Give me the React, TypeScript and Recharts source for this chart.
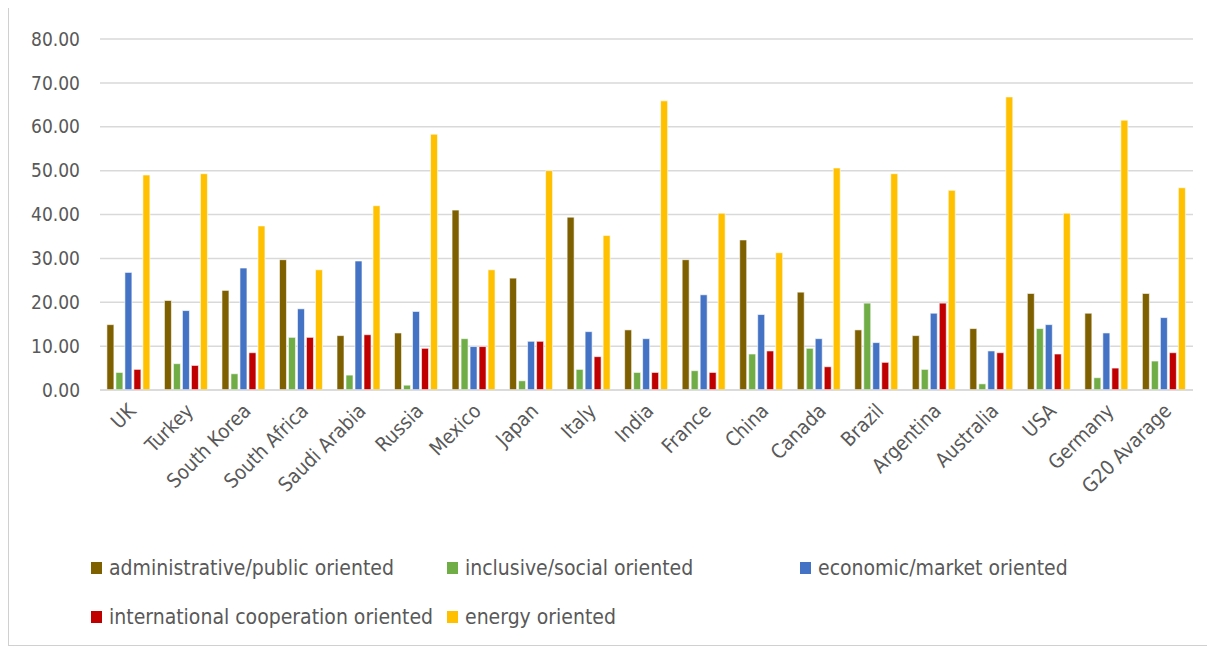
import { BarChart, Bar, XAxis, YAxis, CartesianGrid, Legend } from 'recharts';

const countries = ['UK', 'Turkey', 'South Korea', 'South Africa', 'Saudi Arabia', 'Russia', 'Mexico', 'Japan', 'Italy', 'India', 'France', 'China', 'Canada', 'Brazil', 'Argentina', 'Australia', 'USA', 'Germany', 'G20 Avarage'];
const administrative = [14.9, 20.4, 22.7, 29.7, 12.4, 13.0, 41.0, 25.5, 39.4, 13.7, 29.7, 34.2, 22.3, 13.7, 12.4, 14.0, 22.0, 17.5, 22.0];
const inclusive = [4.0, 6.0, 3.7, 12.0, 3.4, 1.1, 11.7, 2.1, 4.7, 4.0, 4.4, 8.2, 9.5, 19.8, 4.7, 1.4, 14.0, 2.8, 6.6];
const economic = [26.8, 18.1, 27.8, 18.5, 29.4, 17.9, 9.9, 11.1, 13.3, 11.7, 21.7, 17.2, 11.7, 10.8, 17.5, 8.9, 14.9, 13.0, 16.5];
const international = [4.7, 5.6, 8.5, 12.0, 12.6, 9.5, 9.9, 11.1, 7.6, 4.0, 4.0, 8.9, 5.3, 6.3, 19.8, 8.5, 8.2, 5.0, 8.5];
const energy = [49.0, 49.3, 37.4, 27.4, 42.0, 58.3, 27.4, 50.0, 35.2, 65.9, 40.3, 31.3, 50.6, 49.3, 45.5, 66.8, 40.3, 61.5, 46.1];
const yTicks = [0, 10, 20, 30, 40, 50, 60, 70, 80];

const series = [
  { key: 'administrative', name: 'administrative/public oriented', color: '#7F6000' },
  { key: 'inclusive', name: 'inclusive/social oriented', color: '#70AD47' },
  { key: 'economic', name: 'economic/market oriented', color: '#4472C4' },
  { key: 'international', name: 'international cooperation oriented', color: '#C00000' },
  { key: 'energy', name: 'energy oriented', color: '#FFC000' },
];

const data = countries.map((c, i) => ({
  country: c,
  administrative: administrative[i],
  inclusive: inclusive[i],
  economic: economic[i],
  international: international[i],
  energy: energy[i],
}));

const FONT = '"Liberation Sans Narrow", "DejaVu Sans Condensed", "Liberation Sans", sans-serif';
const TEXT = '#595959';

function CountryTick({ x, y, payload }: any) {
  return (
    <g transform={`translate(${x + 4},${y + 10})`}>
      <text textAnchor="end" transform="rotate(-45)" fill={TEXT} fontSize={20} fontFamily={FONT} dy={6}>
        {payload.value}
      </text>
    </g>
  );
}

function LegendBox() {
  const cols = [0, 356, 709];
  return (
    <div style={{ position: 'relative', height: 100, fontFamily: FONT, fontSize: 21, color: TEXT }}>
      {series.map((s, i) => {
        const row = i < 3 ? 0 : 1;
        const col = i < 3 ? i : i - 3;
        return (
          <div
            key={s.key}
            style={{ position: 'absolute', left: 82 + cols[col], top: 11 + row * 49, display: 'flex', alignItems: 'center', whiteSpace: 'nowrap' }}
          >
            <span style={{ width: 11, height: 12, background: s.color, marginRight: 7, display: 'inline-block' }} />
            {s.name}
          </div>
        );
      })}
    </div>
  );
}

export default function App() {
  return (
    <div style={{ margin: '-2px 0 0 0', width: 1201, height: 638, border: '1.5px solid #d0d0d0', background: '#fff' }}>
      <BarChart width={1200} height={638} data={data} margin={{ top: 32, right: 16, left: 0, bottom: 0 }} barGap={2} barCategoryGap="12%">
        <CartesianGrid vertical={false} stroke="#d9d9d9" strokeWidth={1.5} />
        <XAxis
          dataKey="country"
          interval={0}
          height={155}
          tick={<CountryTick />}
          tickLine={false}
          axisLine={{ stroke: '#d9d9d9', strokeWidth: 1.5 }}
        />
        <YAxis
          width={91}
          domain={[0, 80]}
          ticks={yTicks}
          tickFormatter={(v: number) => v.toFixed(2)}
          tick={{ fill: TEXT, fontSize: 19, fontFamily: FONT }}
          tickLine={false}
          axisLine={false}
          tickMargin={14}
        />
        <Legend verticalAlign="bottom" content={() => <LegendBox />} />
        {series.map((s) => (
          <Bar key={s.key} dataKey={s.key} name={s.name} fill={s.color} stroke="#ffffff" strokeWidth={0.6} isAnimationActive={false} />
        ))}
      </BarChart>
    </div>
  );
}
